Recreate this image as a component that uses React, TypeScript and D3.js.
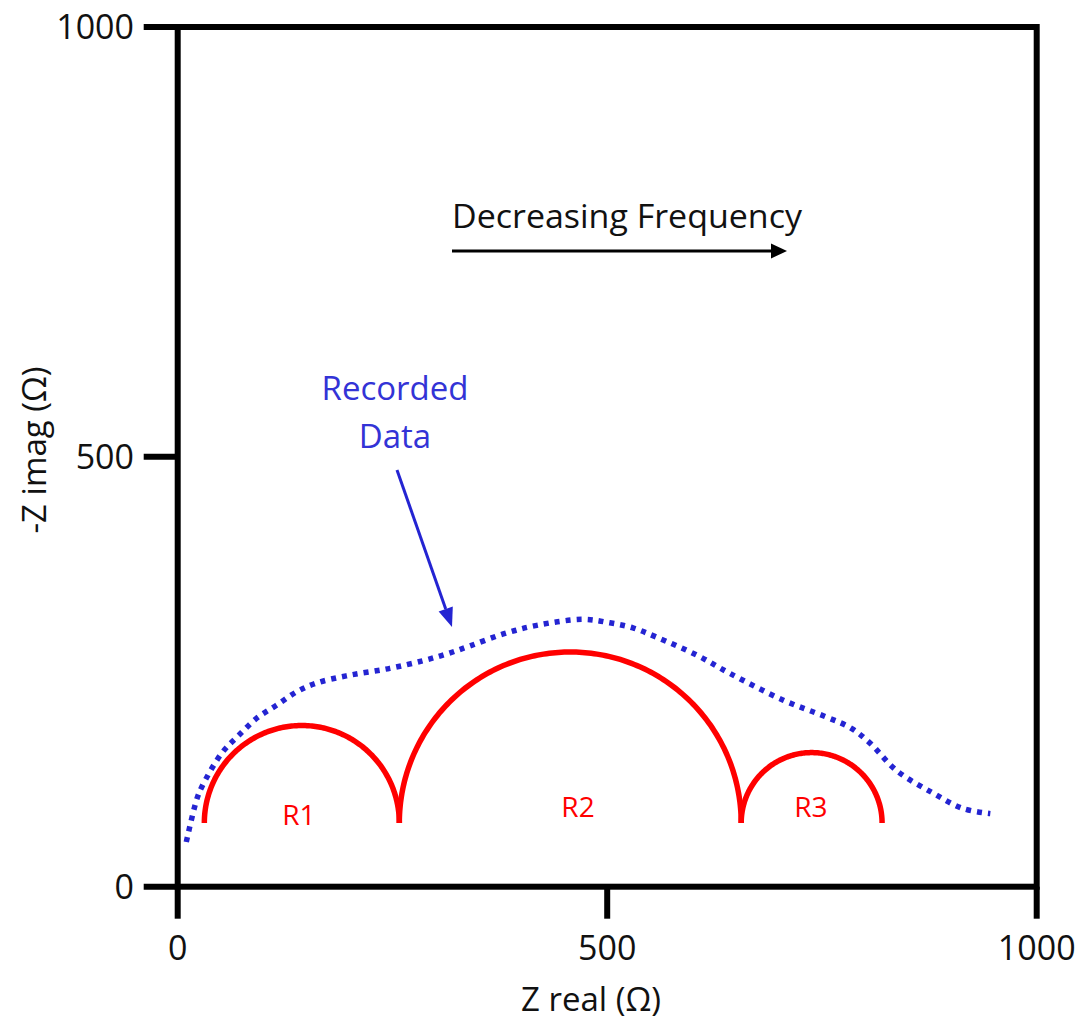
import React from 'react';
import * as d3 from 'd3';

const xTicks = [0, 500, 1000];
const yTicks = [0, 500, 1000];

// Recorded (dotted) data: Z real, -Z imag
const recordedZreal = [10, 22, 28, 51, 70, 92, 115, 139, 162, 200, 247, 286, 314, 340, 379, 418, 472, 503, 530, 558, 605, 643, 705, 756, 783, 806, 837, 879, 914, 946];
const recordedZimag = [52, 101, 116, 155, 175, 196, 211, 227, 237, 246, 254, 263, 271, 280, 294, 304, 311, 307, 301, 290, 269, 248, 217, 197, 185, 167, 135, 109, 91, 85];

// Semicircle components
const arcNames = ['R1', 'R2', 'R3'];
const arcBounds = [31, 258, 656, 820];
const arcBaseline = 74;
const labelZreal = [141, 466, 737];
const labelZimag = [72, 81, 81];

const FONT = '"Open Sans", "DejaVu Sans", sans-serif';
const BLUE = '#2424d2';
const BLUE_TXT = '#3333d6';

export default function App() {
  const x = d3.scaleLinear().domain([0, 1000]).range([177.7, 1036.7]);
  const y = d3.scaleLinear().domain([0, 1000]).range([886.7, 27]);

  const recorded: [number, number][] = recordedZreal.map((v, i) => [v, recordedZimag[i]]);
  const line = d3
    .line<[number, number]>()
    .x((d) => x(d[0]))
    .y((d) => y(d[1]))
    .curve(d3.curveCatmullRom.alpha(0.5));

  const arcLine = d3
    .line<[number, number]>()
    .x((d) => x(d[0]))
    .y((d) => y(d[1]));

  const arcs = arcNames.map((name, i) => {
    const cx = (arcBounds[i] + arcBounds[i + 1]) / 2;
    const r = (arcBounds[i + 1] - arcBounds[i]) / 2;
    const pts: [number, number][] = d3.range(0, 181).map((k) => {
      const t = Math.PI - (k / 180) * Math.PI;
      return [cx + r * Math.cos(t), arcBaseline + r * Math.sin(t)];
    });
    return { name, d: arcLine(pts) as string };
  });

  const x0 = x(0), x1 = x(1000), y0 = y(0), y1 = y(1000);

  // annotation arrows
  const fx1 = 452, fx2 = 787, fy = 251;
  const ax1 = 397, ay1 = 470, ax2 = 452, ay2 = 627;
  const ang = Math.atan2(ay2 - ay1, ax2 - ax1);
  const hl = 19, hw = 7.5;
  const bx = ax2 - hl * Math.cos(ang), by = ay2 - hl * Math.sin(ang);
  const head = [
    [ax2, ay2],
    [bx + hw * Math.sin(ang), by - hw * Math.cos(ang)],
    [bx - hw * Math.sin(ang), by + hw * Math.cos(ang)],
  ].map((p) => p.join(',')).join(' ');

  return (
    <svg width={1082} height={1022} style={{ position: 'absolute', left: 0, top: 0, background: '#fff' }} fontFamily={FONT}>
      <rect x={0} y={0} width={1082} height={1022} fill="#fff" />
      {/* frame */}
      <rect x={x0} y={y1} width={x1 - x0} height={y0 - y1} fill="none" stroke="#000" strokeWidth={6} />
      {/* y ticks */}
      {yTicks.map((t) => (
        <g key={'y' + t}>
          <line x1={x0 - 34} x2={x0} y1={y(t)} y2={y(t)} stroke="#000" strokeWidth={6} />
          <text x={134} y={y(t)} dy="0.36em" textAnchor="end" fontSize={34} fill="#111">{t}</text>
        </g>
      ))}
      {/* x ticks */}
      {xTicks.map((t) => (
        <g key={'x' + t}>
          <line x1={x(t)} x2={x(t)} y1={y0} y2={y0 + 32} stroke="#000" strokeWidth={6} />
          <text x={x(t)} y={960} textAnchor="middle" fontSize={34} fill="#111">{t}</text>
        </g>
      ))}
      {/* axis titles */}
      <text x={591} y={1011} textAnchor="middle" fontSize={33} fill="#111">Z real (Ω)</text>
      <text transform="translate(46,450) rotate(-90)" textAnchor="middle" fontSize={33} fill="#111">-Z imag (Ω)</text>

      {/* semicircles */}
      {arcs.map((a) => (
        <path key={a.name} d={a.d} fill="none" stroke="#ff0000" strokeWidth={5.5} />
      ))}
      {arcNames.map((n, i) => (
        <text key={'l' + n} x={x(labelZreal[i])} y={y(labelZimag[i])} textAnchor="middle" fontSize={28} fill="#ff0000">{n}</text>
      ))}

      {/* recorded data */}
      <path d={line(recorded) as string} fill="none" stroke={BLUE} strokeWidth={5.5} strokeDasharray="5 6" />

      {/* decreasing frequency */}
      <text x={452} y={228} fontSize={33} fill="#111" textLength={350} lengthAdjust="spacingAndGlyphs">Decreasing Frequency</text>
      <line x1={fx1} x2={fx2 - 14} y1={fy} y2={fy} stroke="#000" strokeWidth={3} />
      <polygon points={`${fx2},${fy} ${fx2 - 16},${fy - 7.5} ${fx2 - 16},${fy + 7.5}`} fill="#000" />

      {/* recorded data label */}
      <text x={395} y={400} textAnchor="middle" fontSize={33} fill={BLUE_TXT}>Recorded</text>
      <text x={395} y={448} textAnchor="middle" fontSize={33} fill={BLUE_TXT}>Data</text>
      <line x1={ax1} y1={ay1} x2={bx} y2={by} stroke={BLUE} strokeWidth={3} />
      <polygon points={head} fill={BLUE} />
    </svg>
  );
}
